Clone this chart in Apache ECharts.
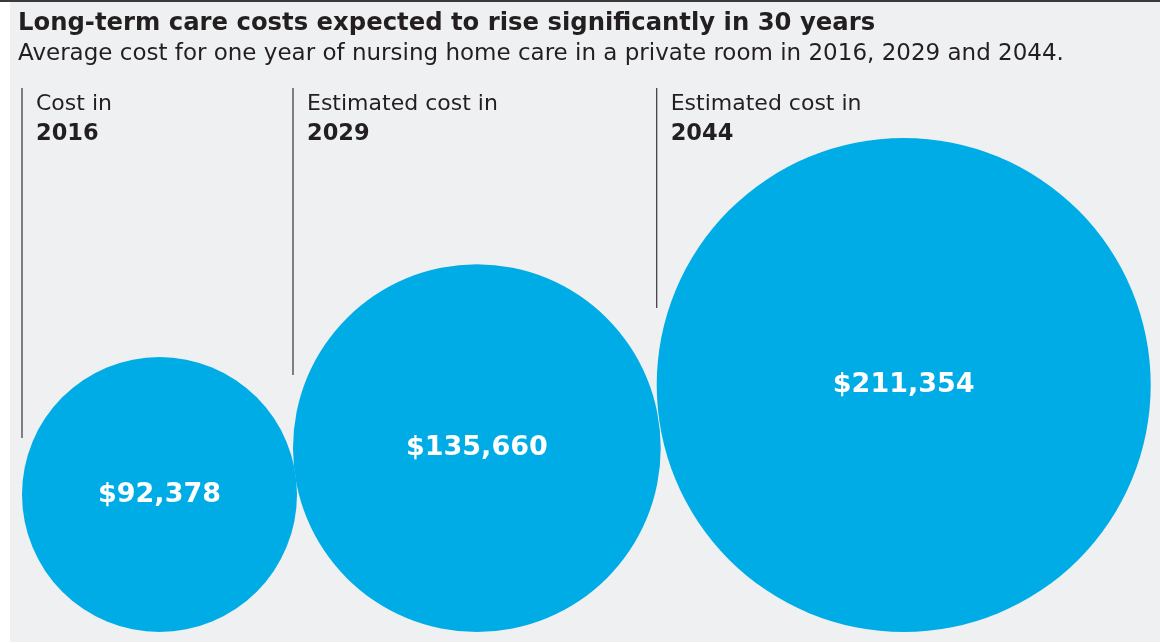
<!DOCTYPE html>
<html><head><meta charset="utf-8">
<script src="https://cdn.jsdelivr.net/npm/echarts@6/dist/echarts.min.js"></script>
<style>html,body{margin:0;padding:0;background:#fff}#c{width:1160px;height:643px}</style>
</head><body><div id="c"></div>
<script>
// ---- data ----
const years = ['2016', '2029', '2044'];
const headings = ['Cost in', 'Estimated cost in', 'Estimated cost in'];
const costs = [92378, 135660, 211354];
const titleText = 'Long-term care costs expected to rise significantly in 30 years';
const subtitleText = 'Average cost for one year of nursing home care in a private room in 2016, 2029 and 2044.';

// ---- layout ----
const W = 1160, H = 643;
const FONT = 'DejaVu Sans';
const BASE_Y = 632, FIRST_LEFT = 22, OVERLAP = 4;
const D_MIN = 275, D_MAX = 494, EXP = 0.4;
const LINE_TOP = 88, LINE_ENDS = [438, 375, 308];
const vmin = Math.min(...costs), vmax = Math.max(...costs);
function diam(v) {
  const a = Math.pow(vmin, EXP), b = Math.pow(vmax, EXP);
  return D_MIN + (Math.pow(v, EXP) - a) / (b - a) * (D_MAX - D_MIN);
}
let left = FIRST_LEFT;
const bubbleData = [], labelData = [];
costs.forEach((v, i) => {
  const d = diam(v);
  bubbleData.push([left + d / 2, BASE_Y - d / 2, v]);
  labelData.push([left, LINE_ENDS[i], i]);
  left = left + d - OVERLAP;
});
const fmt = v => '$' + v.toLocaleString('en-US');

const chart = echarts.init(document.getElementById('c'), null, { renderer: 'canvas' });
chart.setOption({
  animation: false,
  backgroundColor: '#ffffff',
  graphic: [
    { type: 'rect', shape: { x: 10, y: 0, width: W - 10, height: H - 1 }, style: { fill: '#eff0f2' }, z: -10 },
    { type: 'rect', shape: { x: 0, y: 0, width: W, height: 2 }, style: { fill: '#3a3a3a' }, z: -9 }
  ],
  title: {
    left: 13, top: 7,
    text: titleText,
    subtext: subtitleText,
    itemGap: 7,
    textStyle: { fontFamily: FONT, fontSize: 24.3, fontWeight: 'bold', color: '#231f20' },
    subtextStyle: { fontFamily: FONT, fontSize: 23, color: '#231f20' }
  },
  grid: { left: 0, top: 0, right: 0, bottom: 0 },
  xAxis: { type: 'value', min: 0, max: W, show: false },
  yAxis: { type: 'value', min: 0, max: H, inverse: true, show: false },
  series: [
    {
      type: 'scatter',
      data: bubbleData,
      symbolSize: val => diam(val[2]),
      itemStyle: { color: '#00ace6', opacity: 1 },
      label: {
        show: true, position: 'inside',
        formatter: p => fmt(p.value[2]),
        fontFamily: FONT, fontSize: 27, fontWeight: 'bold', color: '#ffffff'
      },
      emphasis: { disabled: true },
      z: 2
    },
    {
      type: 'custom',
      data: labelData,
      renderItem: (params, api) => {
        const x = api.value(0), yEnd = api.value(1), i = api.value(2);
        const p0 = api.coord([x, LINE_TOP]);
        const p1 = api.coord([x, yEnd]);
        return {
          type: 'group',
          children: [
            { type: 'line', shape: { x1: p0[0], y1: p0[1], x2: p1[0], y2: p1[1] },
              style: { stroke: '#333333', lineWidth: 1.2 } },
            { type: 'text', x: p0[0] + 14, y: p0[1] + 5,
              style: { text: headings[i], fontFamily: FONT, fontSize: 22, fill: '#231f20' } },
            { type: 'text', x: p0[0] + 14, y: p0[1] + 35,
              style: { text: years[i], fontFamily: FONT, fontSize: 22.5, fontWeight: 'bold', fill: '#231f20' } }
          ]
        };
      },
      z: 1
    }
  ]
});
</script></body></html>
